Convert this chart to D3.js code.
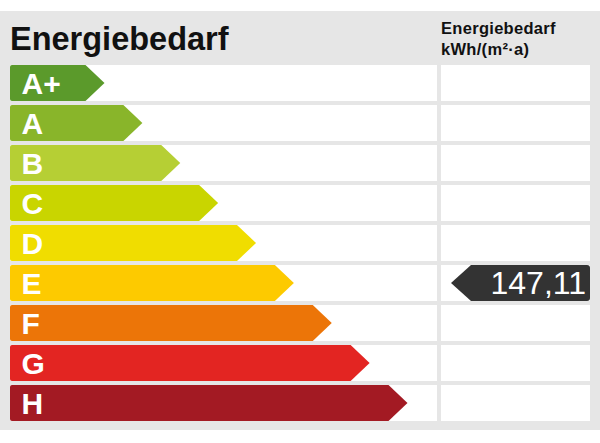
<!doctype html>
<html>
<head>
<meta charset="utf-8">
<title></title>
<style>
body{ margin:0; background:#fff; }
svg{ display:block; }
text{ font-family:"Liberation Sans", Arial, Helvetica, sans-serif; }
</style>
</head>
<body>
<svg></svg>
<script src="https://cdn.jsdelivr.net/npm/d3@7"></script>
<script>
var width = 600;
var height = 443;

// Energieklassen und Farben
var classes = ["A+", "A", "B", "C", "D", "E", "F", "G", "H"];
var colors = ["#5b9a2b", "#89b52a", "#b6cf34", "#c9d500", "#f0dd00", "#fdca00", "#ec7508", "#e32522", "#a31a23"];
var value = 147.11;
var valueClass = "E";
var title = "Energiebedarf";
var unitLabel = ["Energiebedarf", "kWh/(m\u00b2\u00b7a)"];

var svg = d3.select('svg')
    .attr('width', width)
    .attr('height', height);

// grauer Hintergrund
svg.append('rect')
    .attr('x', 0).attr('y', 11)
    .attr('width', width).attr('height', 419)
    .attr('fill', '#e6e6e6');

var y = d3.scaleBand()
    .domain(classes)
    .range([65, 421])
    .paddingInner(0.1)
    .paddingOuter(0);

// Länge der Pfeile je Klasse (Spitze)
var x = d3.scaleLinear()
    .domain([0, classes.length - 1])
    .range([104.5, 407.5]);

var tip = 19;
var colLeft = [10, 437];
var colRight = [441, 590];

// weiße Zeilen
svg.selectAll('rect.rowl')
    .data(classes)
    .enter().append('rect')
    .attr('class', 'rowl')
    .attr('x', colLeft[0])
    .attr('y', function(d){ return y(d); })
    .attr('width', colLeft[1] - colLeft[0])
    .attr('height', y.bandwidth())
    .attr('fill', '#fff');

svg.selectAll('rect.rowr')
    .data(classes)
    .enter().append('rect')
    .attr('class', 'rowr')
    .attr('x', colRight[0])
    .attr('y', function(d){ return y(d); })
    .attr('width', colRight[1] - colRight[0])
    .attr('height', y.bandwidth())
    .attr('fill', '#fff');

// Pfeile
svg.selectAll('path.bar')
    .data(classes)
    .enter().append('path')
    .attr('class', 'bar')
    .attr('fill', function(d, i){ return colors[i]; })
    .attr('d', function(d, i){
        var t = y(d), h = y.bandwidth(), e = x(i), l = colLeft[0], r = 2;
        return 'M' + (l + r) + ',' + t +
            'L' + (e - tip) + ',' + t +
            'L' + e + ',' + (t + h / 2) +
            'L' + (e - tip) + ',' + (t + h) +
            'L' + (l + r) + ',' + (t + h) +
            'Q' + l + ',' + (t + h) + ' ' + l + ',' + (t + h - r) +
            'L' + l + ',' + (t + r) +
            'Q' + l + ',' + t + ' ' + (l + r) + ',' + t + 'Z';
    });

svg.selectAll('text.cls')
    .data(classes)
    .enter().append('text')
    .attr('class', 'cls')
    .attr('x', 21.5)
    .attr('y', function(d){ return y(d) + 29; })
    .attr('fill', '#fff')
    .style('font-size', '30px')
    .style('font-weight', 'bold')
    .text(function(d){ return d; });

// Überschriften
svg.append('text')
    .attr('x', 10).attr('y', 50)
    .style('font-size', '32.5px')
    .style('font-weight', 'bold')
    .attr('fill', '#111')
    .text(title);

svg.selectAll('text.unit')
    .data(unitLabel)
    .enter().append('text')
    .attr('class', 'unit')
    .attr('x', 441)
    .attr('y', function(d, i){ return 34 + i * 21; })
    .style('font-size', '16.5px')
    .style('font-weight', 'bold')
    .style('letter-spacing', '0.3px')
    .attr('fill', '#111')
    .text(function(d){ return d; });

// Wertmarke
var vt = y(valueClass), vh = y.bandwidth();
var vl = 451, vr = colRight[1], vtip = 20, rr = 3;
svg.append('path')
    .attr('fill', '#333333')
    .attr('d', 'M' + vl + ',' + (vt + vh / 2) +
        'L' + (vl + vtip) + ',' + vt +
        'L' + (vr - rr) + ',' + vt +
        'Q' + vr + ',' + vt + ' ' + vr + ',' + (vt + rr) +
        'L' + vr + ',' + (vt + vh - rr) +
        'Q' + vr + ',' + (vt + vh) + ' ' + (vr - rr) + ',' + (vt + vh) +
        'L' + (vl + vtip) + ',' + (vt + vh) + 'Z');

svg.append('text')
    .attr('x', 586)
    .attr('y', vt + 29)
    .attr('text-anchor', 'end')
    .attr('fill', '#fff')
    .style('font-size', '32px')
    .text(d3.format('.2f')(value).replace('.', ','));
</script>
</body>
</html>
